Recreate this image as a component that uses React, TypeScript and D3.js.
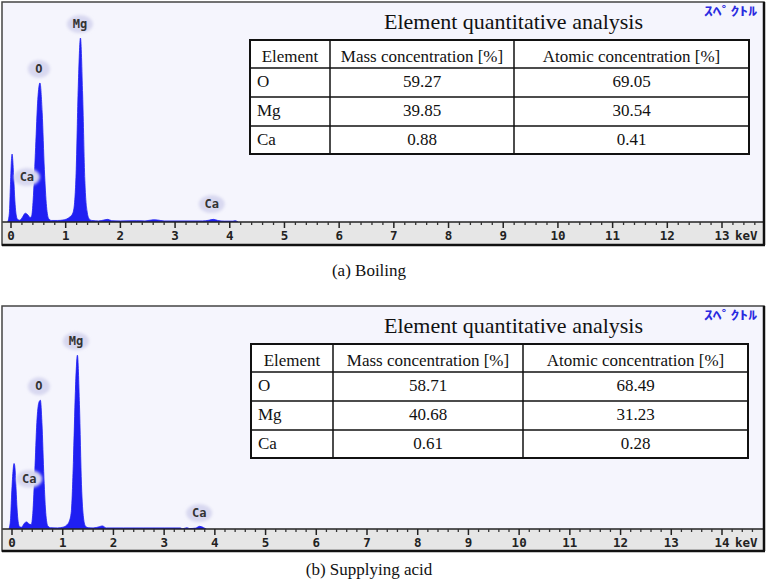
import React from "react";
import * as d3 from "d3";

const W = 767;
const H = 584;

// table contents
const tableHeaders = ["Element", "Mass concentration [%]", "Atomic concentration [%]"];
const elements = ["O", "Mg", "Ca"];
const massBoiling = ["59.27", "39.85", "0.88"];
const atomicBoiling = ["69.05", "30.54", "0.41"];
const massAcid = ["58.71", "40.68", "0.61"];
const atomicAcid = ["68.49", "31.23", "0.28"];

// EDS spectra, energy (keV) and counts (arbitrary)
const boilingKeV = [-0.06, -0.03, -0.01, 0.01, 0.02, 0.03, 0.05, 0.07, 0.09, 0.12, 0.16,
  0.21, 0.26, 0.31, 0.35, 0.38, 0.41, 0.45, 0.49, 0.53, 0.57, 0.61, 0.65, 0.69, 0.74,
  0.85, 0.95, 1.02, 1.08, 1.12, 1.15, 1.19, 1.23, 1.27, 1.31, 1.35, 1.39, 1.43, 1.48,
  1.6, 1.7, 1.77, 1.84, 2.0, 2.3, 2.45, 2.6, 2.68, 2.8, 3.2, 3.5, 3.62, 3.7, 3.78, 3.9,
  4.05, 4.1, 4.15];
const boilingCounts = [0, 40, 170, 290, 310, 290, 200, 100, 40, 12, 8,
  22, 40, 32, 20, 30, 120, 340, 560, 635, 500, 240, 70, 15, 7,
  7, 9, 14, 24, 35, 60, 220, 620, 840, 580, 190, 50, 14, 7,
  5, 9, 12, 6, 5, 6, 5, 10, 9, 5, 5, 5, 8, 12, 7, 4,
  4, 6, 0];

const acidKeV = [-0.06, -0.03, -0.01, 0.02, 0.04, 0.05, 0.06, 0.08, 0.1, 0.12, 0.15, 0.19,
  0.24, 0.29, 0.34, 0.38, 0.41, 0.45, 0.49, 0.53, 0.56, 0.59, 0.63, 0.67, 0.71, 0.76,
  0.9, 1.0, 1.08, 1.13, 1.17, 1.21, 1.25, 1.29, 1.33, 1.37, 1.41, 1.45, 1.5,
  1.6, 1.72, 1.78, 1.86, 2.2, 2.6, 3.0, 3.32, 3.36, 3.45, 3.5, 3.62, 3.7, 3.78, 3.83];
const acidCounts = [0, 40, 140, 260, 295, 290, 270, 180, 90, 35, 10, 8,
  25, 32, 22, 20, 70, 260, 480, 570, 580, 480, 230, 60, 12, 6,
  5, 8, 18, 35, 80, 300, 620, 783, 560, 200, 50, 12, 6,
  5, 10, 14, 5, 5, 5, 5, 5, 1, 6, 2, 4, 12, 6, 0];

// peak identification labels
const peakNames = ["Ca", "O", "Mg", "Ca"];
const boilingPeakKeV = [0.29, 0.51, 1.26, 3.67];
const boilingPeakLabel = [205, 699, 904, 82];
const acidPeakKeV = [0.34, 0.53, 1.26, 3.69];
const acidPeakLabel = [226, 643, 846, 72];

const serif = "Liberation Serif, DejaVu Serif, serif";
const mono = "DejaVu Sans Mono, monospace";
const blue = "#1f1ff2";

type PanelProps = {
  id: string;
  top: number;
  bottom: number;
  axisY: number;
  xMax: number;
  xRange: [number, number];
  cols: number[];
  keV: number[];
  counts: number[];
  peakKeV: number[];
  peakLabel: number[];
  mass: string[];
  atomic: string[];
  caption: string;
  captionY: number;
};

const Panel = (p: PanelProps) => {
  const left = 2;
  const right = 764;
  const x = d3.scaleLinear().domain([0, p.xMax]).range(p.xRange);
  const y = d3.scaleLinear().domain([0, 1000]).range([p.axisY, p.top + 1]);

  const pts = p.keV.map((e, i) => [e, p.counts[i]] as [number, number]);
  const area = d3.area<[number, number]>()
    .x(d => x(d[0]))
    .y0(y(0))
    .y1(d => y(d[1]))
    .curve(d3.curveMonotoneX);

  const majors = d3.range(0, p.xMax + 1);
  const minors = d3.range(0, p.xMax + 0.9, 0.2)
    .filter(v => x(v) < right - 3 && Math.abs(v - Math.round(v)) > 0.01);

  const rows = [p.top + 38, p.top + 66, p.top + 95, p.top + 124, p.top + 152];
  const cols = p.cols;
  const tblTop = rows[0];
  const tblBottom = rows[rows.length - 1];

  return (
    <g>
      <defs>
        <clipPath id={`clip-${p.id}`}>
          <rect x={left} y={p.top} width={right - left} height={p.axisY - p.top} />
        </clipPath>
      </defs>
      {/* plot background */}
      <rect x={left} y={p.top} width={right - left} height={p.axisY - p.top} fill="#f5f5fd" />
      {/* axis band */}
      <rect x={left} y={p.axisY} width={right - left} height={p.bottom - p.axisY} fill="#e6e6e6" />

      {/* spectrum */}
      <g clipPath={`url(#clip-${p.id})`}>
        <path d={area(pts) || ""} fill={blue} stroke={blue} strokeWidth={0.8} />
      </g>

      {/* peak labels */}
      {peakNames.map((name, i) => {
        const cx = x(p.peakKeV[i]);
        const cy = y(p.peakLabel[i]);
        return (
          <g key={`pk-${i}`}>
            <ellipse cx={cx} cy={cy} rx={name.length > 1 ? 13 : 11} ry={9} fill="#d8d8f0" filter="url(#soft)" />
            <text x={cx} y={cy + 4} textAnchor="middle" fontFamily={mono} fontWeight="bold"
              fontSize={12} fill="#333">{name}</text>
          </g>
        );
      })}

      {/* axis */}
      <line x1={left} x2={right} y1={p.axisY} y2={p.axisY} stroke="#222" strokeWidth={1.5} />
      {minors.map(v => (
        <line key={`mn-${v}`} x1={x(v)} x2={x(v)} y1={p.axisY} y2={p.axisY + 3} stroke="#333" strokeWidth={1.3} />
      ))}
      {majors.map(v => (
        <g key={`mj-${v}`}>
          <line x1={x(v)} x2={x(v)} y1={p.axisY} y2={p.axisY + 6} stroke="#222" strokeWidth={1.5} />
          <text x={x(v)} y={p.axisY + 18} textAnchor="middle" fontFamily={mono} fontWeight="bold"
            fontSize={12.5} fill="#222">{v}</text>
        </g>
      ))}
      <text x={x(p.xMax) + 13} y={p.axisY + 18} fontFamily={mono} fontWeight="bold" fontSize={12.5}
        fill="#222">keV</text>

      {/* panel frame */}
      <rect x={left} y={p.top} width={right - left} height={p.bottom - p.top} fill="none"
        stroke="#444" strokeWidth={1.5} />
      <line x1={left} x2={right + 1} y1={p.bottom} y2={p.bottom} stroke="#111" strokeWidth={2.5} />
      <line x1={right} x2={right} y1={p.top} y2={p.bottom} stroke="#111" strokeWidth={2.5} />

      {/* spectrum tag */}
      <text x={757} y={p.top + 14} textAnchor="end" fontFamily="Noto Sans CJK JP, sans-serif"
        fontWeight="bold" fontSize={12} fill="#2a2ae0" textLength={53} lengthAdjust="spacingAndGlyphs">ｽﾍﾟｸﾄﾙ</text>

      {/* quantitative table */}
      <text x={(cols[0] + cols[3]) / 2 + 14} y={p.top + 27} textAnchor="middle" fontFamily={serif}
        fontSize={22} fill="#111">Element quantitative analysis</text>
      <rect x={cols[0]} y={tblTop} width={cols[3] - cols[0]} height={tblBottom - tblTop} fill="#fff"
        stroke="#111" strokeWidth={2} />
      {rows.slice(1, -1).map(r => (
        <line key={`r-${r}`} x1={cols[0]} x2={cols[3]} y1={r} y2={r} stroke="#111" strokeWidth={1.5} />
      ))}
      {cols.slice(1, -1).map(c => (
        <line key={`c-${c}`} x1={c} x2={c} y1={tblTop} y2={tblBottom} stroke="#111" strokeWidth={1.5} />
      ))}
      {tableHeaders.map((h, i) => (
        <text key={`h-${i}`} x={(cols[i] + cols[i + 1]) / 2} y={rows[0] + 22} textAnchor="middle"
          fontFamily={serif} fontSize={17} fill="#111">{h}</text>
      ))}
      {elements.map((el, i) => (
        <g key={`row-${el}`}>
          <text x={cols[0] + 7} y={rows[i + 1] + 19} fontFamily={serif} fontSize={17} fill="#111">{el}</text>
          <text x={(cols[1] + cols[2]) / 2} y={rows[i + 1] + 19} textAnchor="middle" fontFamily={serif}
            fontSize={17} fill="#111">{p.mass[i]}</text>
          <text x={(cols[2] + cols[3]) / 2} y={rows[i + 1] + 19} textAnchor="middle" fontFamily={serif}
            fontSize={17} fill="#111">{p.atomic[i]}</text>
        </g>
      ))}

      {/* caption */}
      <text x={369} y={p.captionY} textAnchor="middle" fontFamily={serif} fontSize={17} fill="#111">
        {p.caption}
      </text>
    </g>
  );
};

export default function App() {
  return (
    <svg width={W} height={H} viewBox={`0 0 ${W} ${H}`}
      style={{ position: "absolute", left: 0, top: 0, background: "#fff" }}>
      <defs>
        <filter id="soft" x="-30%" y="-30%" width="160%" height="160%">
          <feGaussianBlur stdDeviation={1.6} />
        </filter>
      </defs>
      <Panel id="a" top={2} bottom={245} axisY={222} xMax={13} xRange={[11, 722]}
        cols={[250, 330, 514, 749]} keV={boilingKeV} counts={boilingCounts}
        peakKeV={boilingPeakKeV} peakLabel={boilingPeakLabel}
        mass={massBoiling} atomic={atomicBoiling} caption="(a) Boiling" captionY={276} />
      <Panel id="b" top={306} bottom={551} axisY={529} xMax={14} xRange={[12, 722]}
        cols={[251, 333, 523, 748]} keV={acidKeV} counts={acidCounts}
        peakKeV={acidPeakKeV} peakLabel={acidPeakLabel}
        mass={massAcid} atomic={atomicAcid} caption="(b) Supplying acid" captionY={575} />
    </svg>
  );
}
